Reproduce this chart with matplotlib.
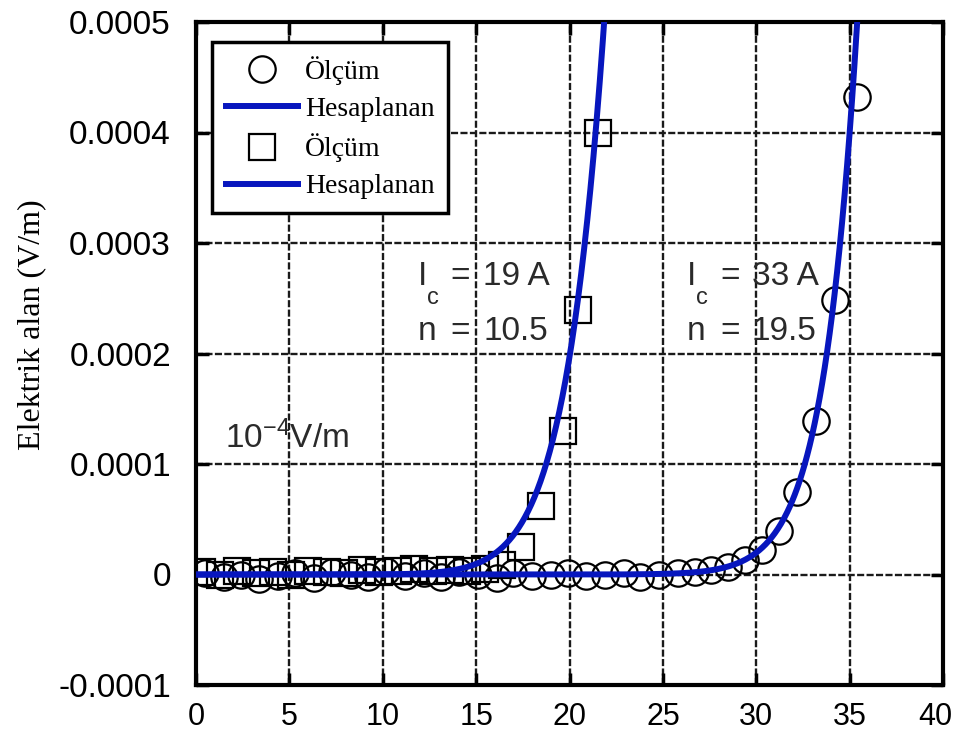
import numpy as np
import matplotlib.pyplot as plt
import matplotlib.transforms as mtransforms

# olcum - Ic = 33 A numune (daire)
akim_daire = [0.5, 1.5, 2.4, 3.4, 4.4, 5.3, 6.3, 7.3, 8.3, 9.2, 10.2, 11.2, 12.2,
              13.1, 14.1, 15.1, 16.1, 17.0, 18.0, 19.0, 19.9, 20.9, 21.9, 22.9,
              23.8, 24.8, 25.8, 26.7, 27.6, 28.5, 29.4, 30.3, 31.2, 32.2, 33.2,
              34.2, 35.4]
alan_daire = [0.1, -0.2, 0.0, -0.4, -0.1, 0.1, -0.3, 0.2, 0.0, -0.2, 0.3, -0.1,
              0.1, -0.2, 0.2, 0.0, -0.3, 0.1, -0.1, 0.0, 0.1, -0.1, 0.0, 0.1,
              -0.2, 0.0, 0.1, 0.2, 0.4, 0.7, 1.3, 2.2, 3.9, 7.5, 13.9, 24.8, 43.2]

# olcum - Ic = 19 A numune (kare)
akim_kare = [0.3, 1.3, 2.2, 3.2, 4.1, 5.1, 6.0, 7.0, 7.9, 8.9, 9.8, 10.8, 11.7,
             12.7, 13.6, 14.5, 15.5, 16.4, 17.4, 18.5, 19.65, 20.45, 21.5]
alan_kare = [0.2, 0.0, 0.3, 0.1, 0.2, 0.0, 0.3, 0.2, 0.1, 0.4, 0.2, 0.3, 0.5,
             0.3, 0.4, 0.3, 0.5, 0.9, 2.5, 6.2, 13.0, 23.9, 40.0]

# hesaplanan egriler E = Ec (I/Ic)^n  (egrinin 1e-4 V/m kesisimi resimden)
Ec = 1e-4
ic_egri = [32.6, 18.75]
n_egri = [19.5, 10.5]

x_ticks = [0, 5, 10, 15, 20, 25, 30, 35, 40]
y_ticks = [-0.0001, 0, 0.0001, 0.0002, 0.0003, 0.0004, 0.0005]
y_labels = ['-0.0001', '0', '0.0001', '0.0002', '0.0003', '0.0004', '0.0005']

mavi = '#0716BE'
gri = '#2a2a2a'
sans = ['Liberation Sans', 'DejaVu Sans']
serif = ['Liberation Serif', 'DejaVu Serif']
plt.rcParams['mathtext.default'] = 'regular'
plt.rcParams['font.family'] = sans

fig = plt.figure(figsize=(9.57, 7.33), dpi=100)
ax = fig.add_axes([196 / 957, 1 - 685 / 733, (943 - 196) / 957, (685 - 22) / 733])

h_daire, = ax.plot(akim_daire, np.array(alan_daire) * 1e-5, 'o', ms=19,
                   mfc='none', mec='black', mew=1.6, zorder=3)
h_kare, = ax.plot(akim_kare, np.array(alan_kare) * 1e-5, 's', ms=19,
                  mfc='none', mec='black', mew=1.6, zorder=3)

akim = np.linspace(0, 40, 1200)
egriler = []
for ic, n in zip(ic_egri, n_egri):
    h, = ax.plot(akim, Ec * (akim / ic) ** n, color=mavi, lw=4.3, zorder=4)
    egriler.append(h)

ax.set_xlim(0, 40)
ax.set_ylim(-0.0001, 0.0005)
ax.set_xticks(x_ticks)
ax.set_yticks(y_ticks)
ax.set_yticklabels(y_labels)
ax.grid(True, color='#1a1a1a', lw=1.7, linestyle=(0, (3, 1)))
ax.set_axisbelow(True)
for s in ax.spines.values():
    s.set_linewidth(3)
ax.tick_params(direction='in', length=9, width=2.5, top=True, right=True,
               colors='black')
ax.tick_params(axis='y', pad=18, labelsize=24)
ax.tick_params(axis='x', pad=12, labelsize=22)

# son etiket resmin icinde kalsin
son = ax.get_xticklabels()[-1]
son.set_transform(son.get_transform() +
                  mtransforms.ScaledTranslation(-8 / 100, 0, fig.dpi_scale_trans))

ax.set_ylabel('Elektrik alan (V/m)', fontsize=23, family=serif)
ax.yaxis.set_label_coords(-0.2, 0.543)

# yazilar
yazi = dict(fontsize=24, color=gri)
for x1, x2, x3, ic_yazi, n_yazi in [(11.88, 13.6, 15.37, '19 A', '10.5'),
                                    (26.3, 28.06, 29.77, '33 A', '19.5')]:
    ax.text(x1, 2.62e-4, 'I', **yazi)
    ax.text(x1 + 0.48, 2.45e-4, 'c', fontsize=17, color=gri)
    ax.text(x2, 2.62e-4, '=', **yazi)
    ax.text(x3, 2.62e-4, ic_yazi, **yazi)
    ax.text(x1, 2.12e-4, 'n', **yazi)
    ax.text(x2, 2.12e-4, '=', **yazi)
    ax.text(x3, 2.12e-4, n_yazi, **yazi)
ax.text(1.55, 1.14e-4, r'$10^{-4}$V/m', **yazi)

leg = ax.legend([h_daire, egriler[0], h_kare, egriler[1]],
                ['Ölçüm', 'Hesaplanan', 'Ölçüm', 'Hesaplanan'],
                loc='upper left', bbox_to_anchor=(0.021, 0.970),
                borderaxespad=0, prop={'family': serif, 'size': 20},
                handlelength=2.6, handletextpad=0.25, labelspacing=0.42,
                borderpad=0.5, fancybox=False, framealpha=1,
                edgecolor='black')
leg.get_frame().set_linewidth(2.5)

plt.savefig('out.png', dpi=100)
